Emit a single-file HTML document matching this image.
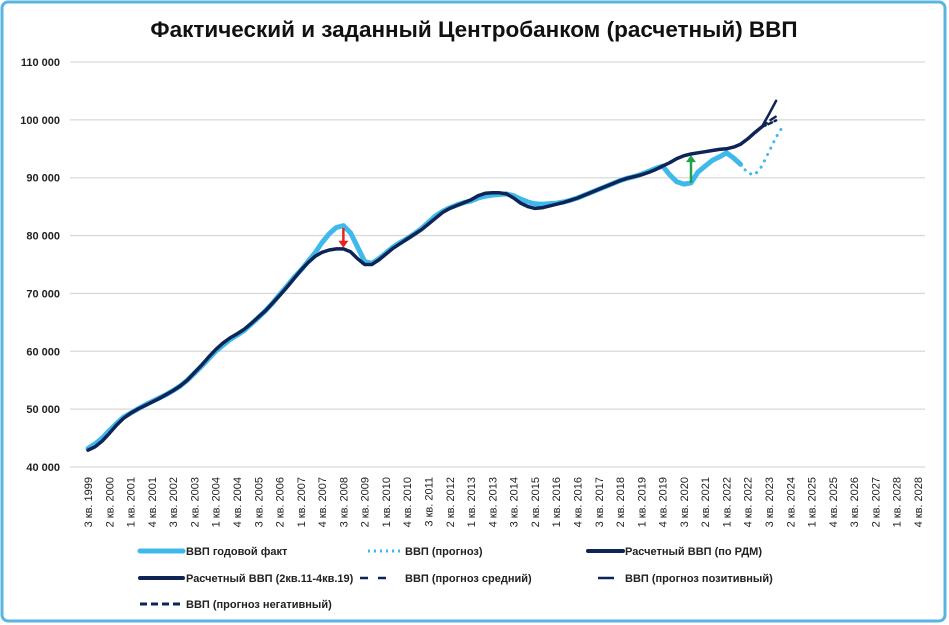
<!DOCTYPE html>
<html><head><meta charset="utf-8"><style>
html,body{margin:0;padding:0;background:#fff;}
svg{display:block;font-family:"Liberation Sans","DejaVu Sans",sans-serif;}
</style></head><body>
<svg id="chart" width="949" height="625" viewBox="0 0 949 625">
<rect x="2" y="2" width="943" height="619" rx="6" fill="#fff" stroke="#5ab4e0" stroke-width="3"/>
<text x="474" y="37" text-anchor="middle" font-size="22.5" font-weight="bold" fill="#111">Фактический и заданный Центробанком (расчетный) ВВП</text>
<g id="grid"></g><g id="yaxis"></g><g id="xaxis"></g><g id="series"></g><g id="arrows"></g>
<g font-size="11" font-weight="bold" fill="#222">
<g><line x1="140" y1="551" x2="183" y2="551" stroke="#3fb8ec" stroke-width="5" stroke-linecap="round"/><text x="186" y="555">ВВП годовой факт</text></g>
<g><line x1="368" y1="551" x2="400" y2="551" stroke="#3fb8ec" stroke-width="3" stroke-dasharray="2,4"/><text x="405" y="555">ВВП (прогноз)</text></g>
<g><line x1="588" y1="551" x2="623" y2="551" stroke="#0f2456" stroke-width="4" stroke-linecap="round"/><text x="625" y="555">Расчетный ВВП (по РДМ)</text></g>
<g><line x1="140" y1="578" x2="183" y2="578" stroke="#0f2456" stroke-width="4" stroke-linecap="round"/><text x="186" y="582">Расчетный ВВП (2кв.11-4кв.19)</text></g>
<g><line x1="360" y1="578" x2="396" y2="578" stroke="#0f2456" stroke-width="2.5" stroke-dasharray="8,10"/><text x="405" y="582">ВВП (прогноз средний)</text></g>
<g><line x1="598" y1="578" x2="614" y2="578" stroke="#0f2456" stroke-width="2.5"/><text x="625" y="582">ВВП (прогноз позитивный)</text></g>
<g><line x1="140" y1="604" x2="183" y2="604" stroke="#0f2456" stroke-width="3" stroke-dasharray="7,4"/><text x="186" y="608">ВВП (прогноз негативный)</text></g>
</g>
</svg>
<script>
const yTicks=[40000,50000,60000,70000,80000,90000,100000,110000];
const factValues=[43200,44000,45000,46300,47500,48600,49300,50000,50700,51300,51900,52500,53200,54000,55000,56200,57400,58700,60000,61000,62000,62800,63600,64700,65800,67000,68300,69800,71200,72700,74000,75500,77000,78800,80300,81400,81700,80500,78000,75500,75200,76000,77000,78000,78800,79500,80300,81200,82300,83400,84200,84800,85300,85700,86000,86500,86800,87000,87100,87200,86900,86300,85800,85500,85400,85500,85600,85800,86100,86500,87000,87500,88000,88500,89000,89500,89900,90200,90600,91100,91600,92000,90500,89300,88900,89100,91000,92000,93000,93600,94300,93400,92300];
const forecastValues=[92300,90800,90500,92000,94500,97000,99000];
const forecastStart=92;
const calcValues=[42900,43500,44500,45800,47200,48400,49300,50000,50600,51200,51800,52500,53200,54000,55000,56300,57600,59000,60300,61400,62300,63000,63800,64800,65900,67000,68300,69600,71000,72500,74000,75300,76400,77100,77500,77700,77700,77200,76000,75000,75000,75800,76800,77800,78600,79400,80200,81000,82000,83000,84000,84700,85200,85700,86200,86900,87300,87400,87400,87200,86500,85600,85000,84700,84800,85100,85400,85700,86100,86500,87000,87500,88000,88500,89000,89500,89900,90200,90500,90900,91400,92000,92600,93300,93800,94100,94300,94500,94700,94900,95000,95300,95800,96700,97800,98800];
const positiveValues=[98800,101000,103300];
const midValues=[98800,99800,100600];
const negativeValues=[98800,99300,99900];
const branchStart=95;
const NS="http://www.w3.org/2000/svg";
const X0=88,XQ=830/117,Y0=467,YK=405/70000;
const xs=i=>X0+i*XQ, ys=v=>Y0-(v-40000)*YK;
function mk(tag,attrs,parent){const e=document.createElementNS(NS,tag);for(const k in attrs)e.setAttribute(k,attrs[k]);parent.appendChild(e);return e;}
const grid=document.getElementById('grid'),ya=document.getElementById('yaxis'),xa=document.getElementById('xaxis'),se=document.getElementById('series'),ar=document.getElementById('arrows');
yTicks.forEach(v=>{
 const l=mk('line',{x1:70,x2:925,y1:ys(v),y2:ys(v),stroke:'#d9d9d9','stroke-width':1.3},grid);
 
 
 const t=mk('text',{x:60,y:ys(v)+4,'text-anchor':'end','font-size':11,'font-weight':'bold',fill:'#222'},ya);
 t.textContent=v.toLocaleString('ru-RU').replace(/\s/g,' ');
 
 
});
for(let i=0;i<=117;i+=3){
 const q0=2+i; const yr=1999+Math.floor(q0/4); const q=q0%4+1;
 const x=xs(i);
 const t=mk('text',{x:0,y:0,transform:`translate(${x+4},477) rotate(-90)`,'text-anchor':'end','font-size':11,fill:'#222'},xa);
 t.textContent=`${q} кв. ${yr}`;
 
 
}
function path(vals,start,attrs,name){
 const d=vals.map((v,k)=>(k?'L':'M')+xs(start+k).toFixed(1)+','+ys(v).toFixed(1)).join(' ');
 const p=mk('path',Object.assign({d:d,fill:'none','stroke-linejoin':'round','stroke-linecap':'round'},attrs),se);
 
 
}
path(factValues,0,{stroke:'#3fb8ec','stroke-width':5},'series-fact');
path(forecastValues,forecastStart,{stroke:'#3fb8ec','stroke-width':3,'stroke-dasharray':'0.1,7'},'series-forecast');
path(calcValues,0,{stroke:'#0f2456','stroke-width':3.5},'series-calculated');
path(positiveValues,branchStart,{stroke:'#0f2456','stroke-width':2.5},'series-positive');
path(midValues,branchStart,{stroke:'#0f2456','stroke-width':2.5,'stroke-dasharray':'6,5'},'series-mid');
path(negativeValues,branchStart,{stroke:'#0f2456','stroke-width':2.5,'stroke-dasharray':'4,3'},'series-negative');
function arrow(i,v1,v2,color,name){
 const x=xs(i),y1=ys(v1),y2=ys(v2),dir=y2>y1?1:-1;
 const g=mk('g',{},ar);
 
 
 mk('line',{x1:x,x2:x,y1:y1,y2:y2-dir*6,stroke:color,'stroke-width':2.5},g);
 mk('path',{d:`M${x-5},${y2-dir*7} L${x+5},${y2-dir*7} L${x},${y2} Z`,fill:color},g);
}
arrow(36,81300,77900,'#e8231f','red-arrow-2008');
arrow(85,89100,93900,'#1fa34a','green-arrow-2020');
</script>
</body></html>
